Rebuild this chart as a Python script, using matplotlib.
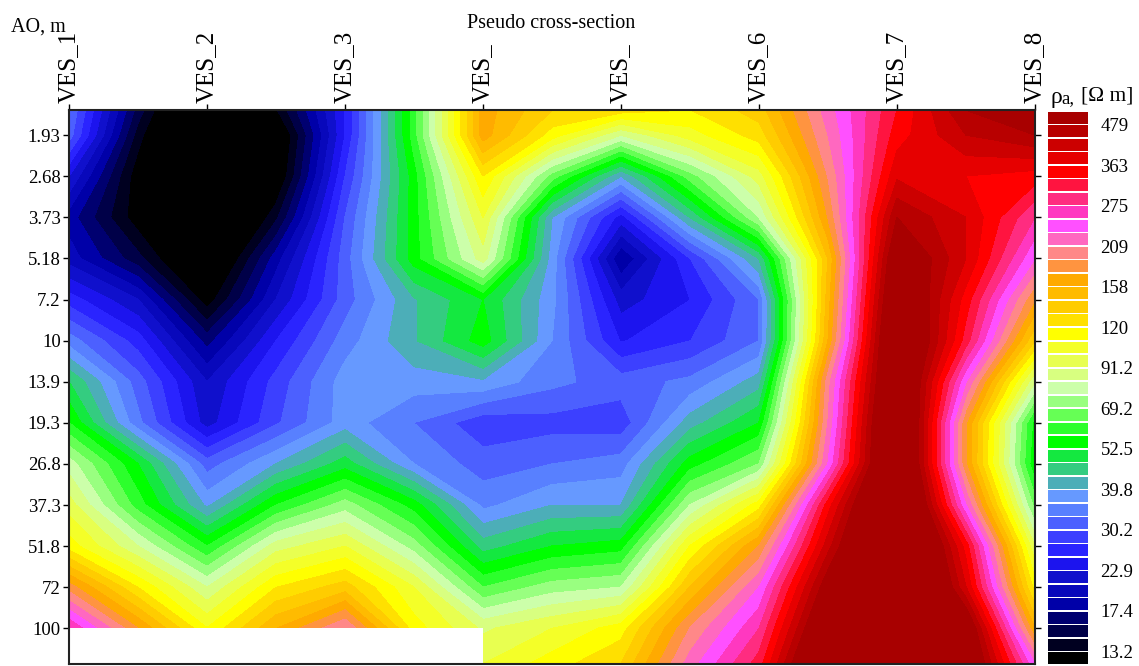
import numpy as np
import matplotlib
matplotlib.use("Agg")
import matplotlib.pyplot as plt
from matplotlib.patches import Rectangle

plt.rcParams['font.family'] = ['Liberation Serif', 'DejaVu Serif']

W, H = 1139, 666

# visible text of the profile labels (the title hides the digit of two of them)
ves_labels = ["VES_1", "VES_2", "VES_3", "VES_", "VES_", "VES_6", "VES_7", "VES_8"]
ves_pos = [1, 2, 3, 4, 5, 6, 7, 8]
grid_pos = [1, 1.5, 2, 2.5, 3, 3.5, 4, 4.5, 5, 5.5, 6, 6.5, 7, 7.5, 8]
ao_rows = [1.58, 1.93, 2.68, 3.73, 5.18, 7.2, 10, 13.9, 19.3, 26.8, 37.3, 51.8, 72, 100, 133]
ao_ticks = [1.93, 2.68, 3.73, 5.18, 7.2, 10, 13.9, 19.3, 26.8, 37.3, 51.8, 72, 100]

# apparent resistivity read from the section, one list per grid column, shallow to deep
ves_1 = [33.1, 31.6, 22.9, 18.2, 20, 26.3, 34.7, 47.9, 57.5, 79.4, 95.5, 115, 182, 275, 302]
mid_12 = [15.2, 13.8, 12.3, 12.4, 14.9, 20.9, 26.3, 31.6, 34, 52.5, 60.3, 83.2, 120, 174, 191]
ves_2 = [8.3, 7.6, 7.6, 8.3, 10, 12.4, 16.7, 20.9, 21.9, 31.6, 39, 57.5, 83.2, 110, 120]
mid_23 = [13, 11, 11.5, 14.1, 18.2, 20.9, 25.1, 28.5, 29.7, 39.8, 57.5, 87.1, 120, 158, 174]
ves_3 = [25.1, 25.1, 27.5, 30.2, 31.6, 31.6, 34.7, 38, 38, 50.1, 72.4, 100, 138, 209, 229]
mid_34 = [60.3, 60.3, 55, 55, 55, 43.2, 43.2, 38, 33.1, 36.3, 55, 72.4, 100, 115, 132]
ves_4 = [166, 166, 120, 100, 87.1, 52.5, 55, 39, 28.3, 31.6, 35.4, 45.7, 63.1, 89.6, 100]
mid_45 = [132, 115, 66.1, 39.8, 38, 37.3, 36.3, 34, 29.1, 33.1, 39.8, 52.5, 72.4, 100, 115]
ves_5 = [126, 83.2, 39.8, 24, 17.4, 21.9, 24.9, 31.6, 28.5, 34.7, 39.8, 55, 75.9, 115, 132]
mid_56 = [120, 105, 66.1, 43.7, 27.5, 25.1, 27.5, 34, 41.7, 55, 75.9, 110, 145, 191, 219]
ves_6 = [138, 126, 95.5, 75.9, 43.7, 33.1, 33.1, 41.7, 52.5, 69.2, 115, 174, 229, 275, 316]
mid_67 = [219, 209, 191, 174, 145, 151, 158, 200, 209, 229, 347, 420, 525, 631, 759]
ves_7 = [331, 347, 391, 479, 575, 631, 692, 692, 759, 759, 832, 912, 1000, 1096, 1202]
mid_78 = [479, 437, 363, 398, 398, 347, 316, 229, 174, 174, 229, 347, 398, 575, 631]
ves_8 = [575, 479, 347, 275, 229, 174, 132, 83.2, 55, 52.5, 66.1, 91.2, 115, 158, 229]

# colour boxes of the scale, from the lowest class to the highest
band_colors = [
    "#000000", "#000020", "#000048", "#000070", "#0000A8", "#0808BB", "#1010CC",
    "#1C14EE", "#2A24FF", "#3C40FF", "#4C60FF", "#5880FF", "#6699FF", "#4CAEB8",
    "#34CC80", "#14E840", "#00FF00", "#2CFF2C", "#66FF55", "#99FF80", "#CCFFAA",
    "#D8FF80", "#E8FF50", "#F4FF28", "#FFFF00", "#FFE000", "#FFCC00", "#FFBB00",
    "#FFAA00", "#FF9440", "#FF8888", "#FF68C0", "#FF50FF", "#FF38C0", "#FF2C80",
    "#FF1440", "#FF0000", "#E60000", "#CC0000", "#B80000", "#A80000",
]
scale_labels = ["13.2", "17.4", "22.9", "30.2", "39.8", "52.5", "69.2",
                "91.2", "120", "158", "209", "275", "363", "479"]

log_step = 0.04
levels_log = np.log10(13.2) + log_step * np.arange(len(band_colors) - 1)

fig = plt.figure(figsize=(W / 100, H / 100), dpi=100, facecolor="white")


def axes_px(x0, y0, x1, y1):
    return fig.add_axes([x0 / W, 1 - y1 / H, (x1 - x0) / W, (y1 - y0) / H])


ax = axes_px(69, 110, 1035, 664)
y = np.log10(ao_rows)
Z = np.log10(np.array([ves_1, mid_12, ves_2, mid_23, ves_3, mid_34, ves_4, mid_45,
                       ves_5, mid_56, ves_6, mid_67, ves_7, mid_78, ves_8]).T)
cf = ax.contourf(grid_pos, y, Z, levels=levels_log, colors=band_colors, extend="both")
cf.set_edgecolor("face")
cf.set_linewidth(0.4)

# no-data block under the shallow soundings
ax.add_patch(Rectangle((ves_pos[0], np.log10(100)), ves_pos[3] - ves_pos[0], y[-1] - np.log10(100),
                       facecolor="white", edgecolor="none", zorder=3))

ax.set_xlim(ves_pos[0], ves_pos[-1])
ax.set_ylim(y[-1], y[0])
ax.xaxis.tick_top()
ax.set_xticks(ves_pos)
ax.set_xticklabels(ves_labels, rotation=90, fontsize=18, ha="center", va="bottom")
ax.set_yticks(np.log10(ao_ticks))
ax.set_yticklabels([str(v) for v in ao_ticks], fontsize=13.5)
ax.tick_params(axis="x", length=4, width=1, pad=1, color="black")
ax.tick_params(axis="y", length=4, width=1, pad=2, left=True, right=True, color="black")
for s in ax.spines.values():
    s.set_linewidth(1.5)
    s.set_color("#222222")
    s.set_zorder(5)

fig.text(551 / W, 1 - 23 / H, "Pseudo cross-section", fontsize=14.5, ha="center", va="center")
fig.text(11 / W, 1 - 27 / H, "AO, m", fontsize=14.5, ha="left", va="center")

# scale
cax = axes_px(1048, 111, 1088, 665)
band_pos = np.arange(len(band_colors)) - 0.5
cax.barh(band_pos, np.ones(len(band_colors)), height=0.88, color=band_colors, left=0)
cax.set_xlim(0, 1)
cax.set_ylim(-1, len(band_colors) - 1)
cax.set_xticks([])
cax.yaxis.tick_right()
cax.set_yticks(np.arange(len(scale_labels)) * 3)
cax.set_yticklabels(scale_labels, fontsize=13.5)
cax.tick_params(axis="y", length=0, pad=9)
for s in cax.spines.values():
    s.set_visible(False)

fig.text(1050 / W, 1 - 97 / H, "ρ", fontsize=17, ha="left", va="center")
fig.text(1061 / W, 1 - 99 / H, "a,", fontsize=13.5, ha="left", va="center")
fig.text(1081 / W, 1 - 96 / H, "[Ω m]", fontsize=15.5, ha="left", va="center")

fig.savefig("out.png", dpi=100, facecolor="white")
